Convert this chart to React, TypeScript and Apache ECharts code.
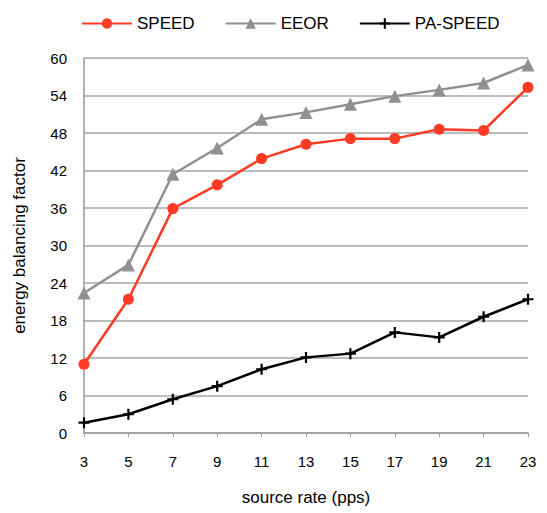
import React, { useEffect, useRef } from "react";
import * as echarts from "echarts";

const categories = ["3", "5", "7", "9", "11", "13", "15", "17", "19", "21", "23"];
const speed = [11.0, 21.4, 35.9, 39.7, 43.9, 46.2, 47.1, 47.1, 48.6, 48.4, 55.3];
const eeor = [22.4, 26.9, 41.4, 45.6, 50.2, 51.3, 52.6, 53.9, 54.9, 56.0, 58.9];
const paSpeed = [1.65, 3.0, 5.4, 7.5, 10.2, 12.1, 12.7, 16.1, 15.3, 18.6, 21.4];

const plusPath =
  "path://M4,0 L6,0 L6,4 L10,4 L10,6 L6,6 L6,10 L4,10 L4,6 L0,6 L0,4 L4,4 Z";

export default function App() {
  const ref = useRef<HTMLDivElement>(null);
  useEffect(() => {
    if (!ref.current) return;
    const chart = echarts.init(ref.current, undefined, { renderer: "svg" });
    const font = "Liberation Sans, Arial, Helvetica, sans-serif";
    chart.setOption({
      animation: false,
      textStyle: { fontFamily: font },
      legend: {
        top: 2,
        left: 68,
        itemWidth: 50,
        itemHeight: 13,
        itemGap: 30,
        textStyle: { fontSize: 17, color: "#000", fontFamily: font },
        data: ["SPEED", "EEOR", "PA-SPEED"],
      },
      grid: { left: 76, right: 11, top: 50, bottom: 80, outerBoundsMode: "none", containLabel: false },
      xAxis: {
        type: "category",
        data: categories,
        boundaryGap: false,
        name: "source rate (pps)",
        nameLocation: "middle",
        nameGap: 56,
        nameTextStyle: { fontSize: 17, color: "#000", fontFamily: font },
        axisLine: { lineStyle: { color: "#999", width: 1.5 } },
        axisTick: { show: true, length: 4, lineStyle: { color: "#999", width: 1 } },
        axisLabel: { fontSize: 15, color: "#000", margin: 21, fontFamily: font },
        splitLine: { show: false },
      },
      yAxis: {
        type: "value",
        min: 0,
        max: 60,
        interval: 6,
        name: "energy balancing factor",
        nameLocation: "middle",
        nameGap: 56,
        nameTextStyle: { fontSize: 17, color: "#000", fontFamily: font },
        axisLine: { show: true, lineStyle: { color: "#999", width: 1.5 } },
        axisTick: { show: false },
        axisLabel: { fontSize: 15, color: "#000", margin: 17, fontFamily: font },
        splitLine: { show: true, lineStyle: { color: "#a6a6a6", width: 1.5 } },
      },
      series: [
        {
          name: "SPEED",
          type: "line",
          data: speed,
          symbol: "circle",
          symbolSize: 11,
          showAllSymbol: true,
          itemStyle: { color: "#ff3b25" },
          lineStyle: { color: "#ff3b25", width: 2.5 },
        },
        {
          name: "EEOR",
          type: "line",
          data: eeor,
          symbol: "triangle",
          symbolSize: 13,
          showAllSymbol: true,
          itemStyle: { color: "#909090" },
          lineStyle: { color: "#909090", width: 2.5 },
        },
        {
          name: "PA-SPEED",
          type: "line",
          data: paSpeed,
          symbol: plusPath,
          symbolSize: 11,
          showAllSymbol: true,
          itemStyle: { color: "#000" },
          lineStyle: { color: "#000", width: 2.5 },
        },
      ],
    });
    return () => chart.dispose();
  }, []);
  return <div ref={ref} style={{ width: 531, height: 505 }} />;
}
